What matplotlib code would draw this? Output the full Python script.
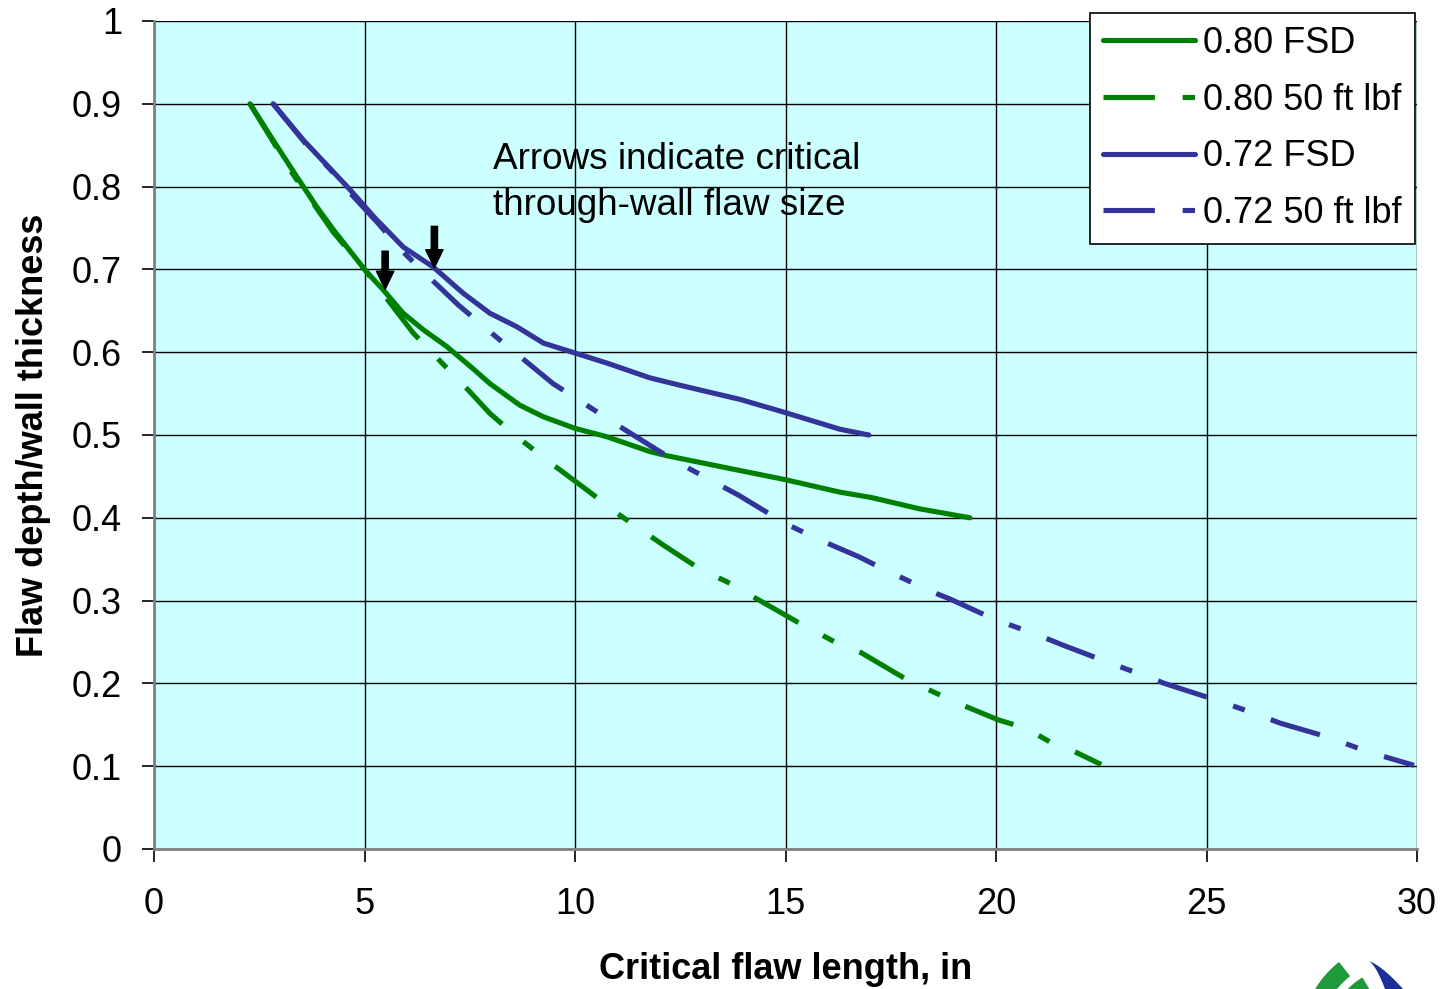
import numpy as np
import matplotlib
matplotlib.use("Agg")
import matplotlib.pyplot as plt
from matplotlib.patches import FancyArrowPatch, Polygon

# ---------------- data ----------------
green_fsd_x = [2.28, 2.83, 3.39, 3.86, 4.26, 4.66, 5.05, 5.45, 5.92, 6.40, 6.95, 7.58,
               7.98, 8.69, 9.25, 10.0, 10.75, 11.78, 12.18, 13.44, 15.0, 16.29, 17.04,
               18.17, 19.38]
green_fsd_y = [0.90, 0.856, 0.812, 0.776, 0.748, 0.722, 0.697, 0.675, 0.647, 0.627, 0.607,
               0.580, 0.562, 0.536, 0.522, 0.508, 0.498, 0.480, 0.475, 0.462, 0.446, 0.431,
               0.4245, 0.411, 0.400]

green_lbf_x = [2.28, 3.3, 4.26, 5.0, 5.6, 6.16, 6.63, 7.47, 7.98, 8.57, 9.48, 10.3, 11.07,
               12.1, 13.0, 13.6, 15.27, 16.25, 16.8, 17.9, 19.1, 20.05, 20.7, 21.4, 21.85,
               22.5]
green_lbf_y = [0.90, 0.815, 0.745, 0.70, 0.66, 0.623, 0.598, 0.554, 0.526, 0.50, 0.464,
               0.433, 0.403, 0.367, 0.337, 0.323, 0.2745, 0.248, 0.237, 0.204, 0.176, 0.156,
               0.146, 0.126, 0.118, 0.102]

blue_fsd_x = [2.83, 3.55, 4.18, 4.66, 5.25, 5.92, 6.63, 7.35, 7.98, 8.61, 9.25, 10.0, 10.75,
              11.78, 12.5, 13.92, 15.0, 16.29, 16.98]
blue_fsd_y = [0.90, 0.856, 0.822, 0.796, 0.762, 0.727, 0.703, 0.671, 0.647, 0.631, 0.611,
              0.599, 0.587, 0.569, 0.560, 0.543, 0.527, 0.507, 0.500]

blue_lbf_x = [2.83, 3.6, 4.2, 4.7, 5.3, 5.9, 6.4, 7.23, 8.02, 8.57, 9.48, 10.4, 11.07, 12.33,
              13.2, 13.88, 15.0, 15.78, 16.74, 17.37, 18.46, 18.88, 20.0, 20.97, 21.6, 22.74,
              23.7, 24.0, 25.1, 26.13, 26.75, 27.83, 28.86, 29.93]
blue_lbf_y = [0.90, 0.852, 0.82, 0.79, 0.757, 0.722, 0.697, 0.657, 0.623, 0.60, 0.562, 0.532,
              0.51, 0.47, 0.446, 0.4275, 0.393, 0.374, 0.353, 0.337, 0.311, 0.3025, 0.2766,
              0.259, 0.246, 0.224, 0.206, 0.20, 0.182, 0.164, 0.152, 0.136, 0.117, 0.101]

series_labels = ["0.80 FSD", "0.80 50 ft lbf", "0.72 FSD", "0.72 50 ft lbf"]

arrow_x = [5.49, 6.66]
arrow_tail_y = [0.722, 0.752]
arrow_tip_y = [0.676, 0.702]

x_ticks = [0, 5, 10, 15, 20, 25, 30]
y_ticks = [0, 0.1, 0.2, 0.3, 0.4, 0.5, 0.6, 0.7, 0.8, 0.9, 1]
y_tick_labels = ["0", "0.1", "0.2", "0.3", "0.4", "0.5", "0.6", "0.7", "0.8", "0.9", "1"]

x_label = "Critical flaw length, in"
y_label = "Flaw depth/wall thickness"
note_text = "Arrows indicate critical\nthrough-wall flaw size"

# ---------------- style ----------------
plt.rcParams['font.family'] = ['Liberation Sans', 'DejaVu Sans']
FS = 26
GREEN = "#008000"
BLUE = "#333399"
LW = 3.7
DASHDOT = (0, (10.0, 5.4, 2.4, 5.4))

W, H = 1443, 989
fig = plt.figure(figsize=(W / 100, H / 100), dpi=100, facecolor="white")
ax = fig.add_axes([154 / W, 1 - 849 / H, (1417 - 154) / W, (849 - 21) / H])
ax.set_facecolor("#CCFFFF")

ax.plot(green_fsd_x, green_fsd_y, color=GREEN, lw=LW, solid_capstyle='round',
        solid_joinstyle='round', label=series_labels[0], zorder=3)
ax.plot(green_lbf_x, green_lbf_y, color=GREEN, lw=LW, linestyle=DASHDOT,
        dash_capstyle='butt', label=series_labels[1], zorder=3)
ax.plot(blue_fsd_x, blue_fsd_y, color=BLUE, lw=LW, solid_capstyle='round',
        solid_joinstyle='round', label=series_labels[2], zorder=3)
ax.plot(blue_lbf_x, blue_lbf_y, color=BLUE, lw=LW, linestyle=DASHDOT,
        dash_capstyle='butt', label=series_labels[3], zorder=3)

for xa, yt, yh in zip(arrow_x, arrow_tail_y, arrow_tip_y):
    arr = FancyArrowPatch((xa, yt), (xa, yh),
                          arrowstyle='simple,head_length=1.3,head_width=1.25,tail_width=0.45',
                          mutation_scale=10, color='black', shrinkA=0, shrinkB=0, zorder=5)
    ax.add_patch(arr)

ax.text(8.05, 0.854, note_text, fontsize=26.6, ha='left', va='top', color='black',
        linespacing=1.42, zorder=1)

ax.set_xlim(0, 30)
ax.set_ylim(0, 1)
ax.set_xticks(x_ticks)
ax.set_yticks(y_ticks)
ax.set_yticklabels(y_tick_labels)
ax.grid(True, color='black', lw=1.0, zorder=0)
ax.set_axisbelow(True)
ax.tick_params(axis='both', direction='out', length=9, width=1.2, labelsize=FS, colors='black')
ax.tick_params(axis='x', pad=18)
ax.tick_params(axis='y', pad=14)
for side in ['top', 'right']:
    ax.spines[side].set_visible(False)
for side in ['left', 'bottom']:
    ax.spines[side].set_color('#808080')
    ax.spines[side].set_linewidth(2.0)

ax.set_xlabel(x_label, fontsize=FS, fontweight='bold', labelpad=22)
ax.set_ylabel(y_label, fontsize=FS, fontweight='bold', labelpad=15)

leg = ax.legend(loc='upper right', bbox_to_anchor=(1415 / W, 1 - 13 / H),
                bbox_transform=fig.transFigure, fontsize=FS, frameon=True, fancybox=False,
                framealpha=1, edgecolor='black', borderpad=0.36, labelspacing=0.6,
                handlelength=2.55, handletextpad=0.22, borderaxespad=0)
leg.get_frame().set_linewidth(1.2)
leg.set_zorder(10)

# ---------------- partial logo (decoration, bottom right) ----------------
lax = fig.add_axes([0, 0, 1, 1], zorder=20)
lax.set_xlim(0, W)
lax.set_ylim(H, 0)
lax.axis('off')

def ring(cx, cy, r1, r2, a1, a2, color):
    t = np.radians(np.linspace(a1, a2, 40))
    outer = np.c_[cx + r2 * np.cos(t), cy - r2 * np.sin(t)]
    inner = np.c_[cx + r1 * np.cos(t[::-1]), cy - r1 * np.sin(t[::-1])]
    lax.add_patch(Polygon(np.vstack([outer, inner]), closed=True, color=color, lw=0))

ring(1400, 1040, 81, 99, 128, 170, "#1E9A3A")
ring(1400, 1040, 58, 73, 121, 170, "#1E9A3A")
# blue crescent
t = np.linspace(0, 1, 30)
outer = np.c_[1368 + 35 * t, 961 + 28 * t ** 1.4]
inner = np.c_[1385 - 17 * t, 989 - 28 * (1 - (1 - t) ** 1.6)]
lax.add_patch(Polygon(np.vstack([outer, inner]), closed=True, color="#1A2E9A", lw=0))

fig.savefig("out.png", dpi=100, facecolor="white")
